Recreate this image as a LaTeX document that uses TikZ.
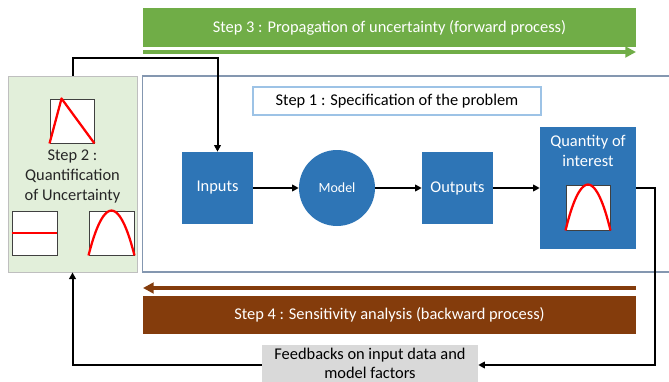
\documentclass[tikz,border=0pt]{standalone}
\usepackage{fontspec}
\setmainfont{Carlito}
\usepackage{xcolor}
\usetikzlibrary{arrows.meta}
\definecolor{stepgreen}{HTML}{70AD47}
\definecolor{stepbrown}{HTML}{843C0C}
\definecolor{boxblue}{HTML}{2E75B6}
\definecolor{panelgreen}{HTML}{E2EFDA}
\definecolor{framegray}{HTML}{8497B0}
\definecolor{titleblue}{HTML}{9DC3E6}
\definecolor{feedgray}{HTML}{D9D9D9}
\definecolor{pdfgray}{HTML}{404040}

\begin{document}
\begin{tikzpicture}[x=0.75pt,y=-0.75pt,
  bigfont/.style={font=\fontsize{12.3}{15}\selectfont},
  stepbar/.style={bigfont, text=white, minimum width=369.75pt, minimum height=28.5pt, inner sep=0pt},
  bluebox/.style={bigfont, fill=boxblue, text=white, inner sep=0pt},
  pdfbox/.style={draw=pdfgray, line width=0.7pt, fill=white, minimum width=33pt, minimum height=33pt, inner sep=0pt},
  pdfline/.style={red, line width=1.7pt},
  link/.style={black, line width=1.5pt, -{Triangle[length=5pt,width=5pt]}}]

\useasboundingbox (0,0) rectangle (669,382);
\clip (0,0) rectangle (669,382);

% frames
\node[draw=framegray, line width=0.9pt, minimum width=397.5pt, minimum height=147pt, inner sep=0pt] (frame) at (407.5,174) {};
\node[draw=black!25, line width=0.6pt, fill=panelgreen, minimum width=96.75pt, minimum height=147pt, inner sep=0pt] (panel) at (72.5,174) {};

% steps 3 and 4
\node[stepbar, fill=stepgreen, minimum height=29.25pt] (stepthree) at (389.5,27.5) {Step 3 : Propagation of uncertainty (forward process)};
\coordinate (greenstart) at (143,52);
\coordinate (greenend) at (636,52);
\draw[stepgreen, line width=2.4pt, -{Triangle[length=8pt,width=8pt]}] (greenstart) -- (greenend);

\node[stepbar, fill=stepbrown] (stepfour) at (389.5,315) {Step 4 : Sensitivity analysis (backward process)};
\coordinate (brownstart) at (636,288);
\coordinate (brownend) at (143,288);
\draw[stepbrown, line width=2.4pt, -{Triangle[length=8pt,width=8pt]}] (brownstart) -- (brownend);

% step 1
\node[bigfont, draw=titleblue, line width=0.9pt, fill=white, minimum width=216pt, minimum height=21pt, inner sep=0pt] (stepone) at (397,101) {Step 1 : Specification of the problem};

\node[bluebox, minimum width=53.25pt, minimum height=54pt] (inputs) at (217.5,188) {Inputs};
\node[bluebox, circle, minimum size=57pt, font=\fontsize{10.5}{12}\selectfont] (model) at (337,188) {Model};
\node[bluebox, minimum width=53.25pt, minimum height=54pt] (outputs) at (457.5,188) {Outputs};
\node[bluebox, minimum width=72pt, minimum height=91.5pt] (qoi) at (588,188) {};
\node[bluebox, align=center, anchor=north] (qoitext) at (588,135) {Quantity of\\interest};

\node[pdfbox, minimum height=33.75pt] (qoipdf) at (588,207.5) {};
\draw[pdfline] (qoipdf.south west) parabola bend (qoipdf.north) (qoipdf.south east);

% step 2
\node[pdfbox] (tripdf) at (72,121) {};
\draw[pdfline, line join=round] (tripdf.south west) -- ([xshift=9pt]tripdf.north west) -- (tripdf.south east);

\node[bigfont, align=center, text=black!85] (steptwo) at (72.5,176) {Step 2 :\\Quantification\\of Uncertainty};

\node[pdfbox, minimum width=33.75pt] (flatpdf) at (34.5,233) {};
\draw[pdfline] (flatpdf.west) -- (flatpdf.east);

\node[pdfbox, minimum width=33.75pt] (bellpdf) at (111.5,233) {};
\draw[pdfline] (bellpdf.south west) parabola bend (bellpdf.north) (bellpdf.south east);

% feedback
\node[fill=feedgray, minimum width=162pt, minimum height=36pt, inner sep=0pt] (feedback) at (370,369) {};
\node[align=center, anchor=north, inner sep=0pt, font=\fontsize{12.3}{14}\selectfont] (feedtext) at (370,348) {Feedbacks on input data and\\model factors};

% connectors
\coordinate (topbend) at (145,58);
\coordinate (rightbend) at (655,365);
\draw[link] (panel.north) |- (topbend) -| (inputs.north);
\draw[link] (inputs) -- (model);
\draw[link] (model) -- (outputs);
\draw[link] (outputs) -- (qoi);
\draw[link] (qoi.east) -| (rightbend) -- (feedback.east |- rightbend);
\draw[link] (feedback.west |- rightbend) -| (panel.south);

\end{tikzpicture}
\end{document}
